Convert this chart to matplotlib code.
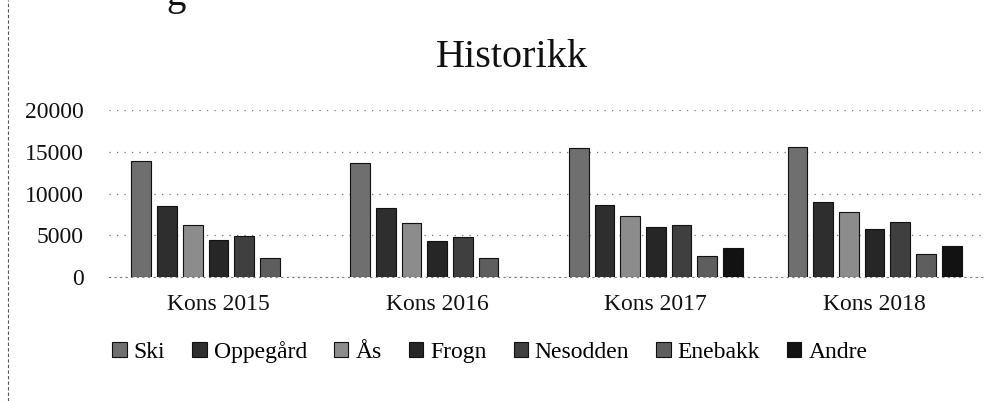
import numpy as np
import matplotlib.pyplot as plt
from matplotlib.lines import Line2D

plt.rcParams['font.family'] = ['Liberation Serif', 'DejaVu Serif']

categories = ["Kons 2015", "Kons 2016", "Kons 2017", "Kons 2018"]
series = ["Ski", "Oppegård", "Ås", "Frogn", "Nesodden", "Enebakk", "Andre"]

ski      = [13950, 13600, 15500, 15600]
oppegard = [8500, 8300, 8650, 9000]
aas      = [6250, 6450, 7300, 7800]
frogn    = [4450, 4300, 6000, 5750]
nesodden = [4900, 4800, 6250, 6600]
enebakk  = [2250, 2250, 2500, 2750]
andre    = [0, 0, 3500, 3750]

values = [ski, oppegard, aas, frogn, nesodden, enebakk, andre]
colors = ["#6f6f6f", "#2e2e2e", "#8c8c8c", "#262626", "#3f3f3f", "#5e5e5e", "#121212"]

fig = plt.figure(figsize=(10.03, 4.01), dpi=100)
ax = fig.add_axes([109/1003, 1-277/401, (984-109)/1003, (277-110)/401])

x = np.arange(len(categories))
step = 0.1175
width = 0.09
for i, (vals, c) in enumerate(zip(values, colors)):
    ax.bar(x + (i - 3) * step, vals, width, color=c, edgecolor="#111111",
           linewidth=0.8, zorder=3, label=series[i])

ax.set_xlim(-0.5, 3.5)
ax.set_ylim(0, 20000)
ax.set_yticks([0, 5000, 10000, 15000, 20000])
ax.set_yticklabels(["0", "5000", "10000", "15000", "20000"])
ax.set_xticks(x)
ax.set_xticklabels(categories)
ax.tick_params(axis="both", length=0, labelsize=17, colors="#111111")
ax.tick_params(axis="y", pad=18)
ax.tick_params(axis="x", pad=12)
ax.yaxis.grid(True, linestyle=(0, (1, 5)), color="#777777", linewidth=0.9, zorder=0)
for s in ["top", "right", "left"]:
    ax.spines[s].set_visible(False)
ax.spines["bottom"].set_linestyle((0, (1, 4)))
ax.spines["bottom"].set_color("#777777")

fig.text(512/1003, 1-67/401, "Historikk", ha="center", va="baseline", fontsize=29, color="#111111")

# cut-off heading letter and scanned page edge
fig.text(166/1003, 1-5/401, "g", ha="left", va="baseline", fontsize=28, color="#111111")
fig.add_artist(Line2D([8/1003, 8/1003], [0, 1], color="#555555", lw=0.8, linestyle=(0, (3, 2))))

handles, labels = ax.get_legend_handles_labels()
fig.legend(handles, labels, loc="center", bbox_to_anchor=(490/1003, 1-352/401), ncol=7,
           frameon=False, fontsize=17, handlelength=0.6, handleheight=0.6,
           handletextpad=0.3, columnspacing=1.15)

fig.savefig("out.png", dpi=100)
